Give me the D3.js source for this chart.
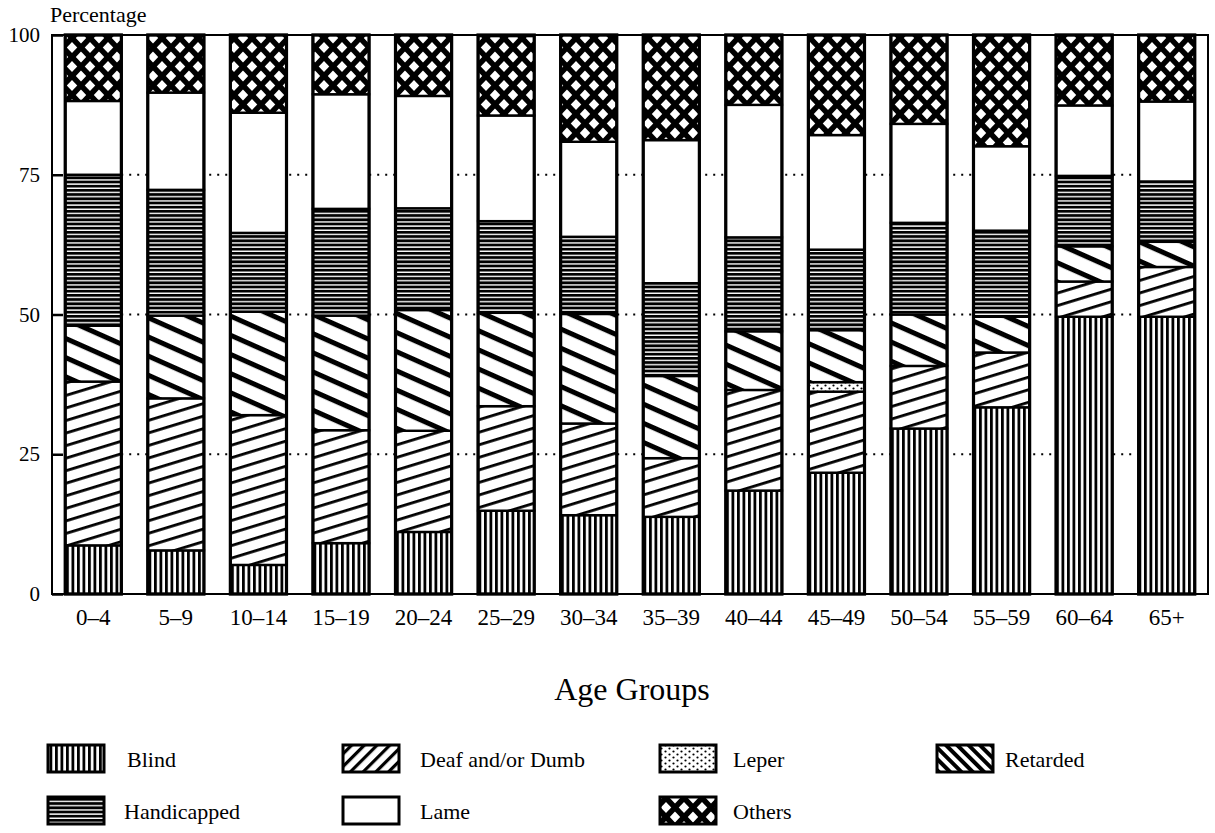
<!DOCTYPE html>
<html>
<head>
<meta charset="utf-8">
<script src="https://cdn.jsdelivr.net/npm/d3@7"></script>
<style>
  html, body { margin: 0; padding: 0; background: #fff; }
  svg text { font-family: "Liberation Serif", "Times New Roman", serif; fill: #000; }
</style>
</head>
<body>
<svg id="chart" width="1215" height="833"></svg>
<script>
// ---------- data ----------
const categories = ["0–4","5–9","10–14","15–19","20–24","25–29","30–34","35–39","40–44","45–49","50–54","55–59","60–64","65+"];
const seriesKeys = ["Blind","Deaf and/or Dumb","Leper","Retarded","Handicapped","Lame","Others"];
const blind       = [8.7, 7.8, 5.2, 9.1, 11.1, 14.9, 14.1, 13.8, 18.5, 21.7, 29.6, 33.4, 49.6, 49.6];
const deaf        = [29.3, 27.2, 26.8, 20.2, 18.1, 18.7, 16.4, 10.5, 18.0, 14.5, 11.2, 9.8, 6.3, 8.9];
const leper       = [0, 0, 0, 0, 0, 0, 0, 0, 0, 1.7, 0, 0, 0, 0];
const retarded    = [10.0, 14.8, 18.5, 20.5, 21.6, 16.7, 19.6, 14.7, 10.5, 9.3, 9.2, 6.4, 6.3, 4.5];
const handicapped = [27.0, 22.5, 14.1, 19.1, 18.2, 16.4, 13.8, 16.6, 16.8, 14.4, 16.4, 15.4, 12.6, 10.8];
const lame        = [13.2, 17.4, 21.5, 20.5, 20.1, 18.9, 17.0, 25.6, 23.7, 20.5, 17.7, 15.1, 12.6, 14.3];
const others      = [11.8, 10.3, 13.9, 10.6, 10.9, 14.2, 19.1, 18.8, 12.5, 17.9, 15.9, 19.9, 12.6, 11.9];
const yTicks = [0, 25, 50, 75, 100];
const gridTicks = [25, 50, 75];
const yAxisTitle = "Percentage";
const xAxisTitle = "Age Groups";

const seriesValues = [blind, deaf, leper, retarded, handicapped, lame, others];
const table = categories.map((c, i) => {
  const row = { cat: c };
  seriesKeys.forEach((k, j) => row[k] = seriesValues[j][i]);
  return row;
});

// ---------- layout ----------
const svg = d3.select("#chart");
const L = 52, R = 1208, T = 35, B = 594;

const x = d3.scaleBand().domain(categories).range([L, R]).paddingInner(0.32).paddingOuter(0.16);
const y = d3.scaleLinear().domain([0, 100]).range([B, T]);

// ---------- patterns ----------
const defs = svg.append("defs");
function linePattern(id, spacing, thick, angle) {
  const p = defs.append("pattern").attr("id", id).attr("patternUnits", "userSpaceOnUse")
    .attr("width", 20).attr("height", spacing)
    .attr("patternTransform", `rotate(${angle})`);
  p.append("rect").attr("width", 20).attr("height", spacing).attr("fill", "#fff");
  p.append("rect").attr("y", 0).attr("width", 20).attr("height", thick).attr("fill", "#000");
}
// Blind: vertical lines
(function(){
  const p = defs.append("pattern").attr("id", "p-blind").attr("patternUnits", "userSpaceOnUse")
    .attr("width", 5.5).attr("height", 10);
  p.append("rect").attr("width", 5.5).attr("height", 10).attr("fill", "#fff");
  p.append("rect").attr("width", 2.8).attr("height", 10).attr("fill", "#000");
})();
// Handicapped: horizontal lines
(function(){
  const p = defs.append("pattern").attr("id", "p-hand").attr("patternUnits", "userSpaceOnUse")
    .attr("width", 10).attr("height", 4.2);
  p.append("rect").attr("width", 10).attr("height", 4.2).attr("fill", "#fff");
  p.append("rect").attr("width", 10).attr("height", 2.8).attr("fill", "#000");
})();
linePattern("p-deaf", 12, 2.8, -17);
linePattern("p-ret", 17.5, 5, 24);
linePattern("p-deaf-leg", 9, 3.2, -45);
linePattern("p-ret-leg", 8, 4, 45);
// Leper: dots
(function(){
  const p = defs.append("pattern").attr("id", "p-leper").attr("patternUnits", "userSpaceOnUse")
    .attr("width", 8).attr("height", 6);
  p.append("rect").attr("width", 8).attr("height", 6).attr("fill", "#fff");
  p.append("circle").attr("cx", 1.5).attr("cy", 1.5).attr("r", 1.1).attr("fill", "#000");
  p.append("circle").attr("cx", 5.5).attr("cy", 4.5).attr("r", 1.1).attr("fill", "#000");
})();
// Others: crosshatch with diamond holes
(function(){
  const w = 18, h = 19;
  const p = defs.append("pattern").attr("id", "p-oth").attr("patternUnits", "userSpaceOnUse")
    .attr("width", w).attr("height", h);
  p.append("rect").attr("width", w).attr("height", h).attr("fill", "#fff");
  const g = p.append("g").attr("stroke", "#000").attr("stroke-width", 5.5);
  [[0,0],[-w,0],[w,0],[0,-h],[0,h]].forEach(([dx,dy]) => {
    g.append("line").attr("x1", dx).attr("y1", dy).attr("x2", dx + w).attr("y2", dy + h);
    g.append("line").attr("x1", dx + w).attr("y1", dy).attr("x2", dx).attr("y2", dy + h);
  });
})();
const fillFor = {
  "Blind": "url(#p-blind)", "Deaf and/or Dumb": "url(#p-deaf)", "Leper": "url(#p-leper)",
  "Retarded": "url(#p-ret)", "Handicapped": "url(#p-hand)", "Lame": "#fff", "Others": "url(#p-oth)"
};
const legendFill = Object.assign({}, fillFor, { "Deaf and/or Dumb": "url(#p-deaf-leg)", "Retarded": "url(#p-ret-leg)" });

// ---------- gridlines (dotted) ----------
svg.append("g").selectAll("line").data(gridTicks).join("line")
  .attr("x1", x(categories[0])).attr("x2", x(categories[categories.length - 1]) + x.bandwidth())
  .attr("y1", d => y(d)).attr("y2", d => y(d))
  .attr("stroke", "#000").attr("stroke-width", 2).attr("stroke-dasharray", "2,6");

// ---------- bars ----------
const stacked = d3.stack().keys(seriesKeys)(table);
const gBars = svg.append("g");
stacked.forEach(layer => {
  gBars.append("g").selectAll("rect").data(layer).join("rect")
    .attr("x", d => x(d.data.cat))
    .attr("width", x.bandwidth())
    .attr("y", d => y(d[1]))
    .attr("height", d => Math.max(0, y(d[0]) - y(d[1])))
    .attr("fill", fillFor[layer.key])
    .attr("stroke", "#000").attr("stroke-width", 2.4);
});
svg.append("g").selectAll("rect").data(categories).join("rect")
  .attr("x", d => x(d)).attr("width", x.bandwidth())
  .attr("y", y(100)).attr("height", y(0) - y(100))
  .attr("fill", "none").attr("stroke", "#000").attr("stroke-width", 3.2);

// ---------- frame and axes ----------
svg.append("rect").attr("x", L).attr("y", T).attr("width", R - L).attr("height", B - T)
  .attr("fill", "none").attr("stroke", "#000").attr("stroke-width", 2);

const yAxis = svg.append("g").attr("transform", `translate(${L},0)`)
  .call(d3.axisLeft(y).tickValues(yTicks).tickSize(-11).tickPadding(12).tickFormat(d3.format("d")));
yAxis.select(".domain").remove();
yAxis.selectAll("line").attr("stroke-width", 2.5);
yAxis.selectAll("text").attr("font-size", 21).style("font-family", "Liberation Serif");

const xAxis = svg.append("g").attr("transform", `translate(0,${B})`)
  .call(d3.axisBottom(x).tickSize(0).tickPadding(31));
xAxis.select(".domain").remove();
xAxis.selectAll("text").attr("font-size", 23).attr("dy", "0").style("font-family", "Liberation Serif");

svg.append("text").attr("x", 50).attr("y", 22).attr("font-size", 22).text(yAxisTitle);
svg.append("text").attr("x", 632).attr("y", 700).attr("text-anchor", "middle").attr("font-size", 32).text(xAxisTitle);

// ---------- legend ----------
const legendItems = [
  { key: "Blind", bx: 48, by: 745, tx: 127 },
  { key: "Deaf and/or Dumb", bx: 343, by: 745, tx: 420 },
  { key: "Leper", bx: 660, by: 745, tx: 733 },
  { key: "Retarded", bx: 937, by: 745, tx: 1005 },
  { key: "Handicapped", bx: 48, by: 797, tx: 124 },
  { key: "Lame", bx: 343, by: 797, tx: 420 },
  { key: "Others", bx: 660, by: 797, tx: 733 }
];
const lg = svg.append("g").selectAll("g").data(legendItems).join("g");
lg.append("rect").attr("x", d => d.bx).attr("y", d => d.by).attr("width", 56).attr("height", 27)
  .attr("fill", d => legendFill[d.key]).attr("stroke", "#000").attr("stroke-width", 3);
lg.append("text").attr("x", d => d.tx).attr("y", d => d.by + 22).attr("font-size", 22).text(d => d.key);
</script>
</body>
</html>
